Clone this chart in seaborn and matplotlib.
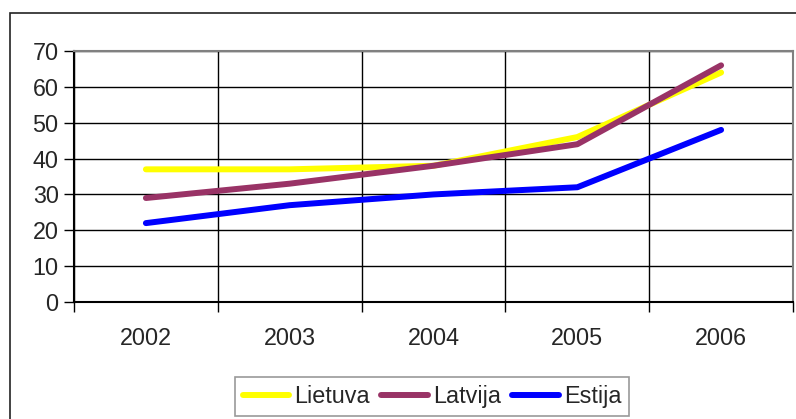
import matplotlib
matplotlib.use("Agg")
import matplotlib.pyplot as plt
import seaborn as sns
import pandas as pd
from matplotlib.patches import Rectangle
from matplotlib.ticker import FixedLocator

# data
years = ["2002", "2003", "2004", "2005", "2006"]
lietuva = [37, 37, 38, 46, 64]
latvija = [29, 33, 38, 44, 66]
estija = [22, 27, 30, 32, 48]
series_names = ["Lietuva", "Latvija", "Estija"]
colors = ["#FFFF00", "#993366", "#0000FF"]

df = pd.DataFrame({
    "pos": list(range(len(years))) * 3,
    "value": lietuva + latvija + estija,
    "country": [n for n in series_names for _ in years],
})

sns.set_style("white")
plt.rcParams["font.family"] = ["Liberation Sans", "DejaVu Sans"]
FS = 16.8

fig = plt.figure(figsize=(7.96, 4.19), dpi=100)
ax = fig.add_axes([74 / 796, 117 / 419, 719 / 796, 251 / 419])

# outer chart border (Excel style)
fig.patches.append(Rectangle((10 / 796, -0.1), 1.0, 1 - 13 / 419 + 0.1,
                             transform=fig.transFigure, fill=False,
                             edgecolor="#222222", linewidth=1.2))

sns.lineplot(data=df, x="pos", y="value", hue="country", palette=colors,
             linewidth=4.3, ax=ax, legend=True, solid_capstyle="round")

ax.set_xlim(-0.5, len(years) - 0.5)
ax.set_ylim(0, 70)
ax.set_yticks(range(0, 71, 10))
ax.set_xticks(range(len(years)))
ax.set_xticklabels(years)
ax.xaxis.set_minor_locator(FixedLocator([i + 0.5 for i in range(-1, len(years))]))
ax.tick_params(axis="x", which="major", length=0, pad=18, labelsize=FS)
ax.tick_params(axis="x", which="minor", length=7, width=1, color="black", direction="out", bottom=True)
ax.tick_params(axis="y", length=7, width=1, color="black", direction="out", left=True, labelsize=FS, pad=4)

ax.grid(axis="y", which="major", color="black", linewidth=1)
ax.grid(axis="x", which="minor", color="black", linewidth=1)
ax.grid(axis="x", which="major", visible=False)
ax.set_axisbelow(True)

for side in ["top", "right"]:
    ax.spines[side].set_color("#808080")
    ax.spines[side].set_linewidth(1.5)
for side in ["left", "bottom"]:
    ax.spines[side].set_color("black")
    ax.spines[side].set_linewidth(1.5)

ax.set_xlabel("")
ax.set_ylabel("")

handles, labels = ax.get_legend_handles_labels()
ax.get_legend().remove()
leg = fig.legend(handles, labels, loc="upper center", bbox_to_anchor=(432 / 796, 1 - 377 / 419),
                 ncol=3, frameon=True, fancybox=False, fontsize=FS, handlelength=2.0,
                 handletextpad=0.2, columnspacing=0.5, borderpad=0.35, borderaxespad=0)
leg.get_frame().set_edgecolor("#808080")
leg.get_frame().set_linewidth(1.2)

fig.savefig("out.png", dpi=100)
